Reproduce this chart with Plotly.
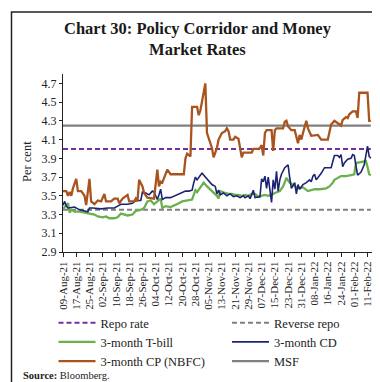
import plotly.graph_objects as go
import pandas as pd

# ---------------- data ----------------
start_date = "2021-08-09"
tick_labels = ["09-Aug-21", "17-Aug-21", "25-Aug-21", "02-Sep-21", "10-Sep-21", "18-Sep-21",
               "26-Sep-21", "04-Oct-21", "12-Oct-21", "20-Oct-21", "28-Oct-21", "05-Nov-21",
               "13-Nov-21", "21-Nov-21", "29-Nov-21", "07-Dec-21", "15-Dec-21", "23-Dec-21",
               "31-Dec-21", "08-Jan-22", "16-Jan-22", "24-Jan-22", "01-Feb-22", "11-Feb-22"]
tick_step_days = 8

# day offsets from start_date and values (per cent)
cp_day = [0, 2, 3, 4, 5, 6, 8, 9, 11, 13, 14, 16, 17, 19, 21, 23, 25, 26, 29, 31, 33, 34, 36, 38,
          39, 40, 43, 44, 45, 46, 48, 49, 51, 55, 57, 58, 59, 60, 62, 63, 65, 73, 74, 75, 77, 78,
          81, 82, 83, 84, 85, 86, 87, 88, 90, 91, 93, 94, 96, 98, 99, 100, 101, 103, 104, 106,
          108, 109, 114, 115, 118, 119, 120, 121, 122, 123, 126, 127, 128, 129, 133, 134, 135,
          136, 138, 140, 142, 143, 144, 145, 146, 147, 148, 150, 154, 156, 160, 162, 164, 166,
          168, 169, 171, 172, 173, 175, 177, 178, 179, 184, 185, 186]
cp_val = [3.55, 3.55, 3.50, 3.54, 3.50, 3.58, 3.68, 3.55, 3.55, 3.50, 3.40, 3.68, 3.44, 3.41,
          3.45, 3.44, 3.52, 3.44, 3.44, 3.47, 3.47, 3.42, 3.47, 3.50, 3.51, 3.44, 3.44, 3.47,
          3.44, 3.67, 3.60, 3.53, 3.48, 3.47, 3.78, 3.60, 3.65, 3.64, 3.73, 3.78, 3.73, 3.73,
          3.90, 3.95, 3.92, 4.45, 4.45, 4.36, 4.41, 4.50, 4.57, 4.70, 4.17, 4.12, 4.01, 3.91,
          4.01, 4.10, 4.17, 4.19, 4.22, 4.19, 4.10, 4.10, 4.13, 4.11, 3.91, 3.96, 3.96, 4.00,
          4.00, 4.01, 4.04, 3.93, 4.17, 4.20, 4.20, 3.98, 4.20, 4.22, 4.22, 4.29, 4.30, 4.24,
          4.20, 4.20, 4.06, 4.15, 4.10, 4.17, 4.24, 4.30, 4.22, 4.14, 4.15, 4.10, 4.10, 4.26,
          4.30, 4.27, 4.25, 4.31, 4.34, 4.33, 4.37, 4.40, 4.40, 4.33, 4.60, 4.60, 4.30, 4.30]

cd_day = [0, 1, 2, 3, 7, 10, 15, 16, 18, 23, 27, 31, 33, 35, 39, 42, 44, 47, 48, 50, 52, 54,
          55, 57, 58, 59, 60, 62, 65, 70, 72, 74, 76, 78, 79, 80, 81, 82, 83, 84, 86, 88, 90,
          92, 93, 94, 95, 97, 99, 101, 103, 105, 107, 109, 110, 112, 113, 114, 115, 116, 118,
          119, 120, 121, 122, 123, 124, 125, 126, 127, 128, 129, 130, 131, 132, 134, 136, 137,
          138, 140, 141, 142, 143, 145, 147, 149, 150, 151, 152, 153, 155, 156, 158, 160, 162,
          164, 166, 167, 168, 169, 170, 172, 174, 175, 176, 178, 180, 182, 184, 185, 186]
cd_val = [3.40, 3.44, 3.39, 3.37, 3.38, 3.35, 3.33, 3.37, 3.37, 3.36, 3.37, 3.37, 3.39, 3.41,
          3.41, 3.42, 3.45, 3.45, 3.54, 3.53, 3.51, 3.55, 3.54, 3.46, 3.51, 3.57, 3.46, 3.48,
          3.48, 3.52, 3.53, 3.55, 3.55, 3.56, 3.64, 3.70, 3.67, 3.70, 3.72, 3.74, 3.70, 3.67,
          3.62, 3.60, 3.52, 3.56, 3.51, 3.53, 3.50, 3.52, 3.49, 3.50, 3.48, 3.50, 3.48, 3.50,
          3.47, 3.51, 3.56, 3.48, 3.49, 3.49, 3.68, 3.65, 3.71, 3.58, 3.70, 3.55, 3.43, 3.67,
          3.57, 3.76, 3.55, 3.67, 3.73, 3.80, 3.83, 3.69, 3.58, 3.64, 3.52, 3.62, 3.57, 3.62,
          3.64, 3.67, 3.65, 3.71, 3.73, 3.67, 3.71, 3.74, 3.80, 3.80, 3.80, 3.93, 3.93, 3.91,
          3.94, 3.81, 3.85, 3.89, 3.90, 3.94, 3.93, 3.72, 3.75, 3.83, 4.03, 3.92, 3.90]

tb_day = [0, 1, 3, 4, 5, 7, 10, 13, 16, 19, 21, 24, 26, 28, 31, 33, 35, 37, 39, 42, 44, 47,
          49, 51, 53, 55, 57, 59, 60, 62, 65, 68, 70, 72, 75, 78, 79, 80, 81, 83, 85, 87, 89,
          91, 93, 94, 95, 98, 100, 102, 104, 106, 108, 110, 112, 114, 116, 118, 120, 122, 124,
          126, 128, 131, 133, 135, 137, 140, 142, 145, 148, 152, 155, 159, 161, 163, 164, 168,
          171, 174, 176, 177, 180, 183, 184, 185, 186]
tb_val = [3.35, 3.38, 3.42, 3.32, 3.35, 3.33, 3.33, 3.32, 3.31, 3.30, 3.28, 3.27, 3.28, 3.26,
          3.26, 3.27, 3.31, 3.30, 3.29, 3.30, 3.34, 3.35, 3.37, 3.44, 3.45, 3.41, 3.44, 3.47,
          3.37, 3.39, 3.38, 3.40, 3.42, 3.44, 3.45, 3.46, 3.51, 3.56, 3.54, 3.59, 3.64, 3.60,
          3.57, 3.53, 3.50, 3.47, 3.55, 3.53, 3.52, 3.52, 3.51, 3.51, 3.50, 3.51, 3.50, 3.52,
          3.52, 3.49, 3.50, 3.51, 3.50, 3.51, 3.53, 3.55, 3.60, 3.69, 3.64, 3.60, 3.58, 3.59,
          3.55, 3.57, 3.57, 3.58, 3.60, 3.64, 3.67, 3.71, 3.71, 3.72, 3.73, 3.85, 3.86, 3.87,
          3.81, 3.73, 3.72]

policy_day = [0, 186]
repo_val = [4.00, 4.00]
reverse_repo_val = [3.35, 3.35]
msf_val = [4.25, 4.25]

y_ticks = [2.9, 3.1, 3.3, 3.5, 3.7, 3.9, 4.1, 4.3, 4.5, 4.7]

# ---------------- helpers ----------------
start = pd.Timestamp(start_date)


def to_dates(days):
    return [start + pd.Timedelta(days=d) for d in days]


tick_vals = [start + pd.Timedelta(days=tick_step_days * i) for i in range(len(tick_labels))]

W, H = 380, 382
ML, MR, MT, MB = 55, 16, 66, 138
PW, PH = W - ML - MR, H - MT - MB


def px(x):
    return (x - ML) / PW


def py(y):
    return (H - MB - y) / PH


SERIF = "Liberation Serif"
DASH = "5px,3px"

fig = go.Figure()

fig.add_trace(go.Scatter(x=to_dates(policy_day), y=msf_val, mode="lines", name="MSF",
                         line=dict(color="#808080", width=2.2), legend="legend2", legendrank=3))
fig.add_trace(go.Scatter(x=to_dates(policy_day), y=reverse_repo_val, mode="lines",
                         name="Reverse repo", line=dict(color="#808080", width=2, dash=DASH),
                         legend="legend2", legendrank=1))
fig.add_trace(go.Scatter(x=to_dates(policy_day), y=repo_val, mode="lines", name="Repo rate",
                         line=dict(color="#7030A0", width=2, dash=DASH), legend="legend",
                         legendrank=1))
fig.add_trace(go.Scatter(x=to_dates(tb_day), y=tb_val, mode="lines", name="3-month T-bill",
                         line=dict(color="#6AB04C", width=2.3), legend="legend", legendrank=2))
fig.add_trace(go.Scatter(x=to_dates(cd_day), y=cd_val, mode="lines", name="3-month CD",
                         line=dict(color="#1C2472", width=1.6), legend="legend2", legendrank=2))
fig.add_trace(go.Scatter(x=to_dates(cp_day), y=cp_val, mode="lines", name="3-month CP (NBFC)",
                         line=dict(color="#A9541E", width=2.3), legend="legend", legendrank=3))

legend_common = dict(orientation="v", xanchor="left", yanchor="top", bgcolor="rgba(0,0,0,0)",
                     font=dict(family=SERIF, size=12.5, color="#222"), itemwidth=37,
                     traceorder="normal", tracegroupgap=0)

fig.update_layout(
    width=W, height=H,
    margin=dict(l=ML, r=MR, t=MT, b=MB, pad=0, autoexpand=False),
    paper_bgcolor="white", plot_bgcolor="white",
    showlegend=True,
    legend=dict(x=px(45.5), y=py(300), **legend_common),
    legend2=dict(x=px(219), y=py(300), **legend_common),
    xaxis=dict(type="date", range=[start, start + pd.Timedelta(days=186.7)],
               tickmode="array", tickvals=tick_vals, ticktext=tick_labels,
               tickangle=-90, ticks="outside", ticklen=4, tickcolor="#222", tickwidth=1,
               showline=True, linecolor="#222", linewidth=1, showgrid=False, zeroline=False,
               automargin=False,
               tickfont=dict(family=SERIF, size=11, color="#222")),
    yaxis=dict(range=[2.9, 4.8], tickmode="array", tickvals=y_ticks,
               ticktext=[f"{v:.1f}" for v in y_ticks],
               ticks="outside", ticklen=3, tickcolor="#222", tickwidth=1,
               showline=True, linecolor="#222", linewidth=1, showgrid=False, zeroline=False,
               automargin=False,
               tickfont=dict(family=SERIF, size=12, color="#222")),
    annotations=[
        dict(text="<b>Chart 30: Policy Corridor and Money<br>Market Rates</b>",
             x=px(190), y=py(31.5), xref="paper", yref="paper", showarrow=False,
             xanchor="center", yanchor="middle",
             font=dict(family=SERIF, size=16.5, color="#1a1a1a")),
        dict(text="Per cent", x=px(19), y=py(154), xref="paper", yref="paper",
             textangle=-90, showarrow=False, xanchor="center", yanchor="middle",
             font=dict(family=SERIF, size=12.5, color="#222")),
        dict(text="<b>Source:</b> Bloomberg.", x=px(13), y=py(367), xref="paper", yref="paper",
             showarrow=False, xanchor="left", yanchor="middle",
             font=dict(family=SERIF, size=10.5, color="#222")),
    ],
    shapes=[
        dict(type="rect", xref="paper", yref="paper", x0=px(3.5), x1=px(376), y0=py(378),
             y1=py(4), line=dict(color="#222", width=1.5), fillcolor="rgba(0,0,0,0)",
             layer="above"),
    ],
)

fig.write_html("out.html")
